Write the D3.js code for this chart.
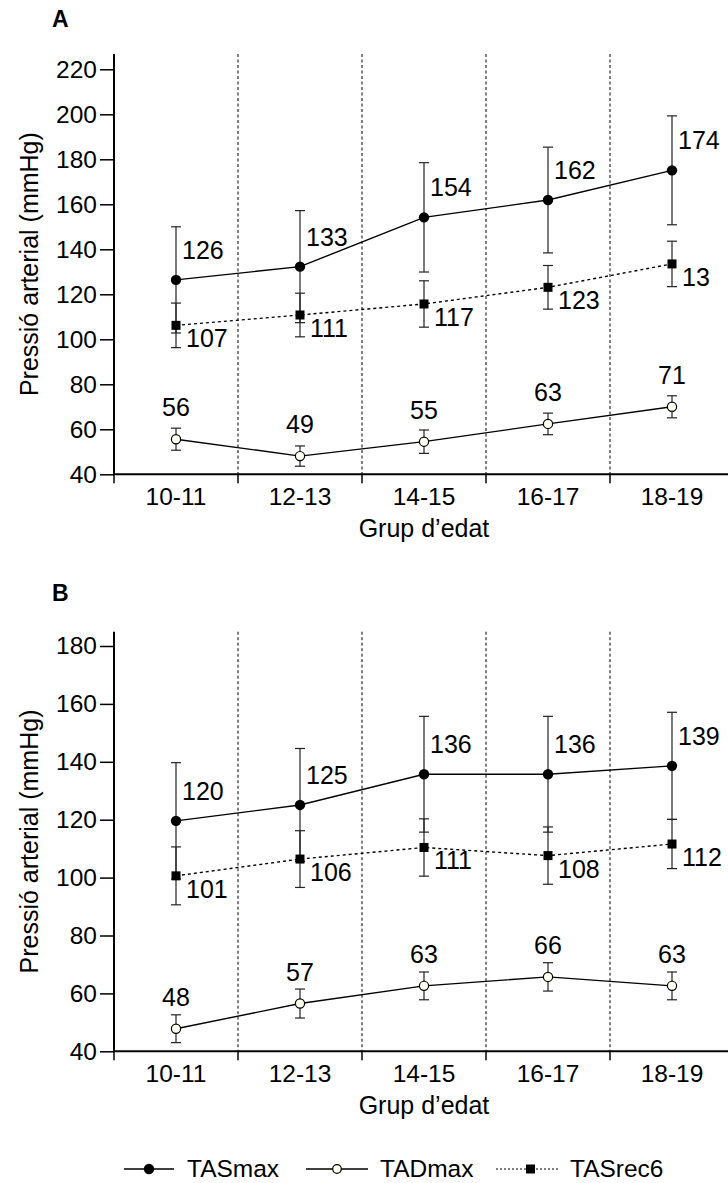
<!DOCTYPE html>
<html>
<head>
<meta charset="utf-8">
<script src="https://cdn.jsdelivr.net/npm/d3@7"></script>
<style>
  html, body { margin: 0; padding: 0; background: #fff; }
  svg { display: block; font-family: "Liberation Sans", Arial, Helvetica, sans-serif; }
</style>
</head>
<body>
<svg id="chart" width="728" height="1183"></svg>
<script>
// ---------- DATA ----------
const categories = ["10-11", "12-13", "14-15", "16-17", "18-19"];

// Panel A
const ticksA = [40, 60, 80, 100, 120, 140, 160, 180, 200, 220];
const tasMaxA = [126.4, 132.3, 154.2, 161.9, 175.1];
const tasMaxSdA = [23.6, 24.9, 24.3, 23.5, 24.2];
const tasMaxLabA = ["126", "133", "154", "162", "174"];
const tadMaxA = [55.6, 48.1, 54.5, 62.4, 70.0];
const tadMaxSdA = [4.9, 4.5, 5.2, 4.8, 4.9];
const tadMaxLabA = ["56", "49", "55", "63", "71"];
const tasRecA = [106.2, 110.8, 115.7, 123.1, 133.5];
const tasRecSdA = [9.9, 9.7, 10.3, 9.7, 10.1];
const tasRecLabA = ["107", "111", "117", "123", "13"];

// Panel B
const ticksB = [40, 60, 80, 100, 120, 140, 160, 180];
const tasMaxB = [119.6, 125.1, 135.7, 135.7, 138.6];
const tasMaxSdB = [20.1, 19.5, 20.0, 20.0, 18.5];
const tasMaxLabB = ["120", "125", "136", "136", "139"];
const tadMaxB = [47.8, 56.5, 62.6, 65.7, 62.6];
const tadMaxSdB = [4.8, 5.0, 4.8, 4.9, 4.8];
const tadMaxLabB = ["48", "57", "63", "66", "63"];
const tasRecB = [100.6, 106.4, 110.4, 107.6, 111.6];
const tasRecSdB = [10.0, 9.8, 9.9, 9.9, 8.5];
const tasRecLabB = ["101", "106", "111", "108", "112"];

const seriesNames = ["TASmax", "TADmax", "TASrec6"];

// ---------- DRAWING ----------
const svg = d3.select("#chart");
svg.append("rect").attr("width", 728).attr("height", 1183).attr("fill", "#fff");

const TICKFONT = 24.5;
const LABFONT = 25;
const left = 114, right = 734;

function drawPanel(cfg) {
  const g = svg.append("g");
  const x = d3.scaleBand().domain(categories).range([left, right]).padding(0);
  const y = d3.scaleLinear().domain([cfg.ticks[0], cfg.ticks[cfg.ticks.length - 1]])
    .range([cfg.bottom, cfg.topTick]);
  const cx = c => x(c) + x.bandwidth() / 2;

  // panel letter
  g.append("text").attr("x", 52).attr("y", cfg.letterY)
    .attr("font-size", 23).attr("font-weight", "bold").text(cfg.letter);

  // dashed separators
  categories.slice(1).forEach(c => {
    g.append("line").attr("x1", x(c)).attr("x2", x(c))
      .attr("y1", cfg.axisTop).attr("y2", cfg.bottom)
      .attr("stroke", "#000").attr("stroke-width", 1).attr("stroke-dasharray", "3,2.5");
  });

  // y axis
  const yAxis = d3.axisLeft(y).tickValues(cfg.ticks).tickSize(14).tickPadding(3).tickSizeOuter(0);
  const ya = g.append("g").attr("transform", `translate(${left},0)`).call(yAxis);
  ya.select(".domain").remove();
  ya.selectAll(".tick line").attr("stroke-width", 1.5);
  ya.selectAll(".tick text").attr("font-size", TICKFONT)
    .attr("font-family", "Liberation Sans, Arial, sans-serif").attr("fill", "#000");
  g.append("line").attr("x1", left).attr("x2", left).attr("y1", cfg.axisTop).attr("y2", cfg.bottom + 1)
    .attr("stroke", "#000").attr("stroke-width", 2);

  // x axis
  g.append("line").attr("x1", left - 1).attr("x2", right).attr("y1", cfg.bottom).attr("y2", cfg.bottom)
    .attr("stroke", "#000").attr("stroke-width", 2);
  categories.forEach(c => {
    g.append("line").attr("x1", x(c)).attr("x2", x(c)).attr("y1", cfg.bottom).attr("y2", cfg.bottom + 9)
      .attr("stroke", "#000").attr("stroke-width", 1.5);
    g.append("text").attr("x", cx(c)).attr("y", cfg.bottom + 31)
      .attr("text-anchor", "middle").attr("font-size", TICKFONT).text(c);
  });
  g.append("text").attr("x", (left + right) / 2).attr("y", cfg.bottom + 63)
    .attr("text-anchor", "middle").attr("font-size", LABFONT).text("Grup d\u2019edat");

  // y title
  g.append("text").attr("transform", `translate(38,${(cfg.axisTop + cfg.bottom) / 2}) rotate(-90)`)
    .attr("text-anchor", "middle").attr("font-size", LABFONT).text("Pressió arterial (mmHg)");

  const series = [
    { vals: cfg.tasMax, sd: cfg.tasMaxSd, lab: cfg.tasMaxLab, type: "filled", dash: null },
    { vals: cfg.tadMax, sd: cfg.tadMaxSd, lab: cfg.tadMaxLab, type: "open", dash: null },
    { vals: cfg.tasRec, sd: cfg.tasRecSd, lab: cfg.tasRecLab, type: "square", dash: "3,3" }
  ];

  // error bars
  series.forEach(s => {
    s.vals.forEach((v, i) => {
      const px = cx(categories[i]);
      const y1 = y(v + s.sd[i]), y2 = y(v - s.sd[i]);
      g.append("line").attr("x1", px).attr("x2", px).attr("y1", y1).attr("y2", y2)
        .attr("stroke", "#222").attr("stroke-width", 1.2);
      [y1, y2].forEach(yy => g.append("line").attr("x1", px - 5).attr("x2", px + 5)
        .attr("y1", yy).attr("y2", yy).attr("stroke", "#222").attr("stroke-width", 1.2));
    });
  });

  // lines
  const line = d3.line().x((d, i) => cx(categories[i])).y(d => y(d));
  series.forEach(s => {
    g.append("path").datum(s.vals).attr("d", line).attr("fill", "none")
      .attr("stroke", "#000").attr("stroke-width", 1.4)
      .attr("stroke-dasharray", s.dash);
  });

  // markers
  series.forEach(s => {
    s.vals.forEach((v, i) => {
      const px = cx(categories[i]), py = y(v);
      if (s.type === "filled") {
        g.append("circle").attr("cx", px).attr("cy", py).attr("r", 5.2).attr("fill", "#000");
      } else if (s.type === "open") {
        g.append("circle").attr("cx", px).attr("cy", py).attr("r", 4.6)
          .attr("fill", "#fffff2").attr("stroke", "#000").attr("stroke-width", 1.2);
      } else {
        g.append("rect").attr("x", px - 4.5).attr("y", py - 4.5).attr("width", 9).attr("height", 9).attr("fill", "#000");
      }
    });
  });

  // value labels
  series.forEach(s => {
    s.vals.forEach((v, i) => {
      const px = cx(categories[i]), py = y(v);
      const t = g.append("text").attr("font-size", LABFONT).text(s.lab[i]);
      if (s.type === "filled") t.attr("x", px + 6).attr("y", py - 21);
      else if (s.type === "open") t.attr("x", px).attr("y", py - 23).attr("text-anchor", "middle");
      else t.attr("x", px + 10).attr("y", py + 22);
    });
  });
}

drawPanel({
  letter: "A", letterY: 27, axisTop: 54, topTick: 69.3, bottom: 474.3, ticks: ticksA,
  tasMax: tasMaxA, tasMaxSd: tasMaxSdA, tasMaxLab: tasMaxLabA,
  tadMax: tadMaxA, tadMaxSd: tadMaxSdA, tadMaxLab: tadMaxLabA,
  tasRec: tasRecA, tasRecSd: tasRecSdA, tasRecLab: tasRecLabA
});
drawPanel({
  letter: "B", letterY: 601, axisTop: 631.7, topTick: 646, bottom: 1051.3, ticks: ticksB,
  tasMax: tasMaxB, tasMaxSd: tasMaxSdB, tasMaxLab: tasMaxLabB,
  tadMax: tadMaxB, tadMaxSd: tadMaxSdB, tadMaxLab: tadMaxLabB,
  tasRec: tasRecB, tasRecSd: tasRecSdB, tasRecLab: tasRecLabB
});

// legend
const lg = svg.append("g");
const ly = 1169;
const legendItems = [
  { name: seriesNames[0], x1: 124, x2: 174, tx: 187, type: "filled" },
  { name: seriesNames[1], x1: 306, x2: 368, tx: 380, type: "open" },
  { name: seriesNames[2], x1: 496, x2: 559, tx: 570, type: "square" }
];
legendItems.forEach(it => {
  lg.append("line").attr("x1", it.x1).attr("x2", it.x2).attr("y1", ly).attr("y2", ly)
    .attr("stroke", "#000").attr("stroke-width", it.type === "square" ? 1.2 : 1.5)
    .attr("stroke-dasharray", it.type === "square" ? "2,2" : null);
  const mx = (it.x1 + it.x2) / 2 + (it.type === "square" ? 3 : 0);
  if (it.type === "filled") lg.append("circle").attr("cx", mx).attr("cy", ly).attr("r", 5.2).attr("fill", "#000");
  else if (it.type === "open") lg.append("circle").attr("cx", mx).attr("cy", ly).attr("r", 4.3)
    .attr("fill", "#fffff2").attr("stroke", "#000").attr("stroke-width", 1.2);
  else lg.append("rect").attr("x", mx - 4.5).attr("y", ly - 4.5).attr("width", 9).attr("height", 9).attr("fill", "#000");
  lg.append("text").attr("x", it.tx).attr("y", ly + 8).attr("font-size", 24.5).text(it.name);
});
</script>
</body>
</html>
